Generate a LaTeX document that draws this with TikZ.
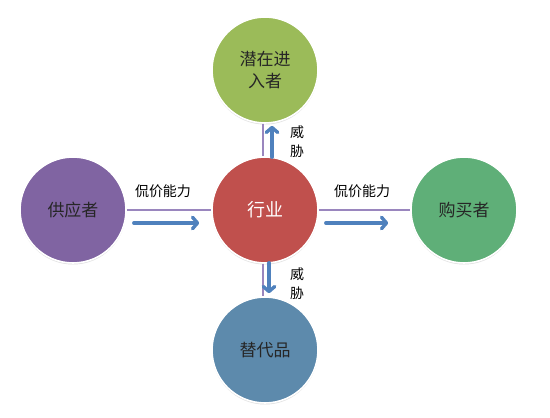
\documentclass[tikz,border=0pt]{standalone}
\usepackage{fontspec}
\setmainfont{Noto Sans CJK SC}
\usetikzlibrary{arrows.meta,shadows}
\definecolor{cpurple}{HTML}{8064A2}
\definecolor{cred}{HTML}{C0504D}
\definecolor{cgreen}{HTML}{9BBB59}
\definecolor{cgreen2}{HTML}{5FAF78}
\definecolor{cblue}{HTML}{5D8AAC}
\definecolor{carrow}{HTML}{4F81BD}
\definecolor{cline}{HTML}{9A86BE}
\begin{document}
\begin{tikzpicture}[x=1pt,y=1pt,
  ball/.style={circle,minimum size=106pt,inner sep=0pt,draw=white,line width=1.6pt,
    font=\fontsize{17}{22}\selectfont,align=center,text=black!85,
    drop shadow={opacity=0.25,shadow xshift=0pt,shadow yshift=-1.5pt}},
  link/.style={draw=cline,line width=1.2pt},
  flow/.style={draw=carrow,line width=3.4pt,line cap=round,
    -{Straight Barb[length=5pt,width=11.5pt,line cap=round,round]}},
  lbl/.style={font=\fontsize{14}{19}\selectfont,align=center,inner sep=0pt}]
\useasboundingbox[fill=white] (0,0) rectangle (550,418);
\node[ball,fill=cgreen] (T) at (265,348) {潜在进\\入者};
\node[ball,fill=cblue] (B) at (265,68) {替代品};
\node[ball,fill=cpurple] (L) at (73,208) {供应者};
\node[ball,fill=cgreen2] (R) at (464,208) {购买者};
\node[ball,fill=cred,text=white,font=\fontsize{18}{22}\selectfont] (C) at (265,208) {行业};
% thin links
\draw[link] ([xshift=-2pt]C.north) -- ([xshift=-2pt]T.south);
\draw[link] ([xshift=-2pt]C.south) -- ([xshift=-2pt]B.north);
\draw[link] (L.east) -- (C.west);
\draw[link] (C.east) -- (R.west);
% arrows
\draw[flow] ([xshift=7pt,yshift=-1pt]C.north) -- ([xshift=7pt,yshift=-2pt]T.south);
\draw[flow] ([xshift=4pt,yshift=1pt]C.south) -- ([xshift=4pt,yshift=3pt]B.north);
\draw[flow] ([xshift=7pt,yshift=-13pt]L.east) -- ([xshift=-12pt,yshift=-13pt]C.west);
\draw[flow] ([xshift=7pt,yshift=-13pt]C.east) -- ([xshift=-22pt,yshift=-13pt]R.west);
% labels
\node[lbl] (t1) at (297,276) {威\\胁};
\node[lbl] (t2) at (297,134) {威\\胁};
\node[lbl] (p1) at (163,227) {侃价能力};
\node[lbl] (p2) at (362,227) {侃价能力};
\end{tikzpicture}
\end{document}
